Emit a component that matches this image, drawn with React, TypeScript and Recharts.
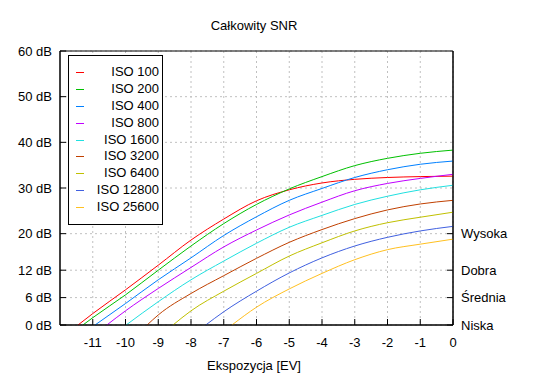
import React from 'react';
import {
  LineChart,
  Line,
  XAxis,
  YAxis,
  CartesianGrid,
  ReferenceArea,
} from 'recharts';

// EV ticks and SNR axis ticks
const evTicks = [-11, -10, -9, -8, -7, -6, -5, -4, -3, -2, -1, 0];
const dbTicks = [0, 6, 12, 20, 30, 40, 50, 60];
const qualityTicks = [0, 6, 12, 20];
const qualityLabels = ['Niska', 'Średnia', 'Dobra', 'Wysoka'];

// [EV, SNR dB]
const iso100 = [[-11.45, 0], [-11, 2.5], [-10, 7.7], [-9, 13.1], [-8, 18.6], [-7, 23.2], [-6, 27.2], [-5, 29.6], [-4, 31.1], [-3, 31.9], [-2, 32.3], [-1, 32.5], [0, 32.6]];
const iso200 = [[-11.3, 0], [-11, 1.6], [-10, 6.6], [-9, 12.0], [-8, 17.3], [-7, 22.2], [-6, 26.4], [-5, 29.8], [-4, 32.5], [-3, 34.9], [-2, 36.5], [-1, 37.6], [0, 38.3]];
const iso400 = [[-10.93, 0], [-10, 4.7], [-9, 9.9], [-8, 14.7], [-7, 19.6], [-6, 23.7], [-5, 27.3], [-4, 29.9], [-3, 32.3], [-2, 34.0], [-1, 35.2], [0, 35.9]];
const iso800 = [[-10.57, 0], [-10, 3.1], [-9, 8.0], [-8, 12.6], [-7, 17.1], [-6, 20.8], [-5, 24.1], [-4, 26.9], [-3, 29.4], [-2, 31.0], [-1, 32.1], [0, 33.0]];
const iso1600 = [[-9.98, 0], [-9, 5.1], [-8, 9.9], [-7, 14.0], [-6, 17.9], [-5, 21.4], [-4, 24.0], [-3, 26.4], [-2, 28.2], [-1, 29.6], [0, 30.6]];
const iso3200 = [[-9.34, 0], [-9, 2.2], [-8, 6.9], [-7, 10.8], [-6, 14.6], [-5, 18.1], [-4, 20.9], [-3, 23.3], [-2, 25.2], [-1, 26.5], [0, 27.3]];
const iso6400 = [[-8.55, 0], [-8, 3.1], [-7, 7.4], [-6, 11.3], [-5, 15.1], [-4, 18.0], [-3, 20.6], [-2, 22.4], [-1, 23.6], [0, 24.7]];
const iso12800 = [[-7.55, 0], [-7, 2.9], [-6, 7.4], [-5, 11.4], [-4, 14.7], [-3, 17.3], [-2, 19.2], [-1, 20.6], [0, 21.6]];
const iso25600 = [[-6.75, 0], [-6, 3.9], [-5, 7.9], [-4, 11.3], [-3, 14.3], [-2, 16.5], [-1, 17.7], [0, 18.8]];

const series = [
  { name: 'ISO 100', color: '#ff0000', points: iso100 },
  { name: 'ISO 200', color: '#00c000', points: iso200 },
  { name: 'ISO 400', color: '#0080ff', points: iso400 },
  { name: 'ISO 800', color: '#c000ff', points: iso800 },
  { name: 'ISO 1600', color: '#20e0e0', points: iso1600 },
  { name: 'ISO 3200', color: '#c04000', points: iso3200 },
  { name: 'ISO 6400', color: '#c0c000', points: iso6400 },
  { name: 'ISO 12800', color: '#4060e0', points: iso12800 },
  { name: 'ISO 25600', color: '#ffc020', points: iso25600 },
];

const FONT = '"Liberation Sans", Arial, sans-serif';
const tickStyle = { fill: '#000', fontSize: 13, fontFamily: FONT };

export default function App() {
  return (
    <div style={{ position: 'absolute', left: 0, top: 0, width: 550, height: 380, background: '#fff', fontFamily: FONT }}>
      <div style={{ position: 'absolute', left: 0, width: 508, top: 18, textAlign: 'center', fontSize: 13 }}>
        Całkowity SNR
      </div>

      <LineChart width={550} height={380} margin={{ top: 51, right: 0, bottom: 0, left: 0 }}>
        <CartesianGrid stroke="#c0c0c0" strokeDasharray="2 3" horizontalValues={dbTicks} verticalValues={evTicks} />
        <XAxis
          type="number"
          dataKey="ev"
          domain={[-12, 0]}
          ticks={evTicks}
          allowDataOverflow
          height={55}
          tickSize={-6}
          tickMargin={19}
          tick={tickStyle}
          stroke="#000"
        />
        <YAxis
          type="number"
          domain={[0, 60]}
          ticks={dbTicks}
          width={60}
          tickSize={-6}
          tickMargin={14}
          tick={tickStyle}
          tickFormatter={(v) => `${v} dB`}
          stroke="#000"
        />
        <YAxis
          yAxisId="right"
          orientation="right"
          type="number"
          domain={[0, 60]}
          ticks={qualityTicks}
          width={97}
          tickSize={-6}
          tickMargin={14}
          tick={tickStyle}
          tickFormatter={(v) => qualityLabels[qualityTicks.indexOf(Number(v))]}
          stroke="#000"
        />
        <ReferenceArea x1={-12} x2={0} y1={0} y2={60} fill="none" stroke="#000" strokeWidth={1} />

        {series.map((s, i) => (
          <Line
            key={s.name}
            yAxisId={i === series.length - 1 ? 'right' : 0}
            name={s.name}
            data={s.points.map(([ev, db]) => ({ ev, db }))}
            dataKey="db"
            type="monotone"
            stroke={s.color}
            strokeWidth={1}
            dot={false}
            isAnimationActive={false}
          />
        ))}
      </LineChart>

      {/* legend box */}
      <div
        style={{
          position: 'absolute',
          left: 68,
          top: 55,
          width: 95,
          height: 170,
          boxSizing: 'border-box',
          border: '1px solid #000',
          background: '#fff',
          paddingTop: 8,
          fontSize: 13,
        }}
      >
        {series.map((s) => (
          <div key={s.name} style={{ position: 'relative', height: 16.9, lineHeight: '16.9px' }}>
            <div style={{ position: 'absolute', left: 7, top: 8, width: 8, height: 1, background: s.color }} />
            <div style={{ position: 'absolute', right: 3, top: 0, textAlign: 'right', color: '#000' }}>{s.name}</div>
          </div>
        ))}
      </div>

      <div style={{ position: 'absolute', left: 0, width: 508, top: 358, textAlign: 'center', fontSize: 13 }}>
        Ekspozycja [EV]
      </div>
    </div>
  );
}
